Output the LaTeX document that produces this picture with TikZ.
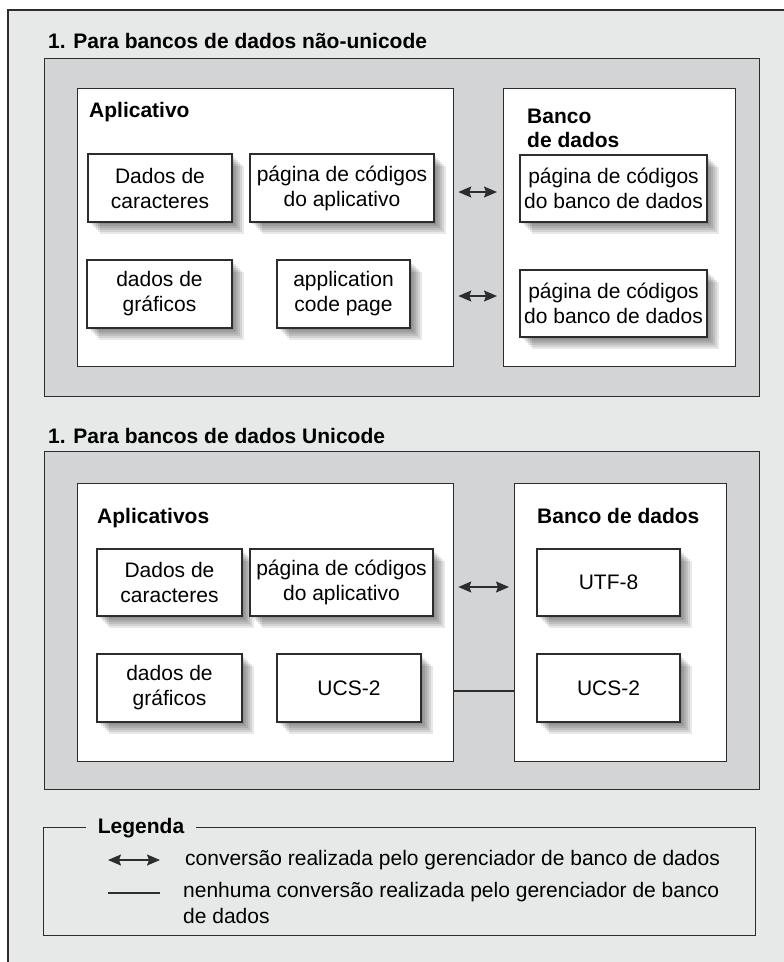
\documentclass[tikz,border=0pt]{standalone}
\usepackage{fontspec}
\setmainfont{Liberation Sans}
\usetikzlibrary{arrows.meta, shadows, calc}
\definecolor{pagegray}{RGB}{231, 232, 232}
\definecolor{sectgray}{RGB}{211, 212, 214}
\definecolor{edgegray}{RGB}{45, 45, 45}

\begin{document}
\begin{tikzpicture}[x=1pt, y=-1pt,
  framebox/.style={draw=edgegray, line width=1.3pt, inner sep=0pt, anchor=north west},
  boxshade/.style={
    general shadow={shadow xshift=12pt, shadow yshift=-12pt, draw=none, fill=black, opacity=.09},
    general shadow={shadow xshift=10pt, shadow yshift=-10pt, draw=none, fill=black, opacity=.09},
    general shadow={shadow xshift=8pt, shadow yshift=-8pt, draw=none, fill=black, opacity=.09},
    general shadow={shadow xshift=6pt, shadow yshift=-6pt, draw=none, fill=black, opacity=.09},
    general shadow={shadow xshift=4pt, shadow yshift=-4pt, draw=none, fill=black, opacity=.09},
    general shadow={shadow xshift=2pt, shadow yshift=-2pt, draw=none, fill=black, opacity=.09}},
  itembox/.style={boxshade, draw=edgegray, fill=white, line width=1.2pt, align=center, inner sep=0pt,
    font=\fontsize{21}{25}\selectfont},
  headtext/.style={font=\bfseries\fontsize{21}{23}\selectfont, inner sep=0pt, align=left},
  legtext/.style={font=\fontsize{21}{26}\selectfont, inner sep=0pt, align=left},
  conv/.style={{Stealth[length=13pt, width=11pt, inset=2pt]}-{Stealth[length=13pt, width=11pt, inset=2pt]},
    line width=1.5pt, draw=edgegray},
  plain/.style={line width=1.2pt, draw=edgegray}
]
  \useasboundingbox[fill=white] (0,0) rectangle (784,962);

  % Outer frame
  \fill[pagegray] (8,10) rectangle (784,962);
  \draw[edgegray, line width=1.3pt] (8,962) -- (8,10) -- (784,10);

  % Non-unicode
  \node[headtext, anchor=base west] (title1) at (48,48) {1. Para bancos de dados não-unicode};
  \node[framebox, fill=sectgray, minimum width=715, minimum height=338] (sec1) at (44,58) {};
  \node[framebox, fill=white, minimum width=376, minimum height=278] (apl1) at (77,88) {};
  \node[framebox, fill=white, minimum width=232, minimum height=278] (db1) at (503,88) {};
  \node[headtext, anchor=base west] (apl1lbl) at (89,117) {Aplicativo};
  \node[headtext, anchor=north west] (db1lbl) at (527,109) {Banco\\[1pt]de dados};

  \node[itembox, minimum width=144, minimum height=68] (chr1) at (160,188) {Dados de\\caracteres};
  \node[itembox, minimum width=184, minimum height=68] (pag1) at (342,188) {página de códigos\\do aplicativo};
  \node[itembox, minimum width=145, minimum height=68] (gra1) at (159.5,294) {dados de\\gráficos};
  \node[itembox, minimum width=133, minimum height=68] (acp1) at (343.5,294) {application\\code page};
  \node[itembox, minimum width=187, minimum height=67] (dbp1) at (613.5,188.5) {página de códigos\\do banco de dados};
  \node[itembox, minimum width=187, minimum height=67] (dbp2) at (613.5,303.5) {página de códigos\\do banco de dados};

  \draw[conv] ($(apl1.east |- pag1.east)+(4,4)$) -- ($(db1.west |- pag1.east)+(-6,4)$);
  \draw[conv] ($(apl1.east |- acp1.east)+(4,2)$) -- ($(db1.west |- acp1.east)+(-6,2)$);

  % Unicode
  \node[headtext, anchor=base west] (title2) at (48,443) {1. Para bancos de dados Unicode};
  \node[framebox, fill=sectgray, minimum width=715, minimum height=338] (sec2) at (44,451) {};
  \node[framebox, fill=white, minimum width=376, minimum height=278] (apl2) at (77,483) {};
  \node[framebox, fill=white, minimum width=212, minimum height=278] (db2) at (514,483) {};
  \node[headtext, anchor=base west] (apl2lbl) at (97,523) {Aplicativos};
  \node[headtext, anchor=base west] (db2lbl) at (537,523) {Banco de dados};

  \node[itembox, minimum width=145, minimum height=67] (chr2) at (169.5,582.5) {Dados de\\caracteres};
  \node[itembox, minimum width=183, minimum height=67] (pag2) at (341.5,582.5) {página de códigos\\do aplicativo};
  \node[itembox, minimum width=145, minimum height=68] (gra2) at (169.5,688) {dados de\\gráficos};
  \node[itembox, minimum width=144, minimum height=68] (ucsapp) at (349,688) {UCS-2};
  \node[itembox, minimum width=143, minimum height=67] (utf8) at (608.5,582.5) {UTF-8};
  \node[itembox, minimum width=143, minimum height=68] (ucsdb) at (608.5,688) {UCS-2};

  \draw[conv] ($(apl2.east |- pag2.east)+(4,4.5)$) -- ($(db2.west |- pag2.east)+(-5,4.5)$);
  \draw[plain] ($(apl2.east |- ucsapp.east)+(0,3)$) -- ($(db2.west |- ucsapp.east)+(0,3)$);

  % Legend
  \node[framebox, minimum width=712, minimum height=108] (legend) at (43,827) {};
  \node[headtext, fill=pagegray, inner xsep=12pt, inner ysep=3pt] (leglbl) at (141,828) {Legenda};
  \coordinate (arrA) at (108,860);
  \coordinate (arrB) at (160,860);
  \coordinate (lineA) at (108,893);
  \coordinate (lineB) at (160,893);
  \draw[conv] (arrA) -- (arrB);
  \draw[plain] (lineA) -- (lineB);
  \node[legtext, anchor=west] (legconv) at (185,860) {conversão realizada pelo gerenciador de banco de dados};
  \node[legtext, anchor=north west] (legnone) at (183,882) {nenhuma conversão realizada pelo gerenciador de banco\\de dados};
\end{tikzpicture}
\end{document}
